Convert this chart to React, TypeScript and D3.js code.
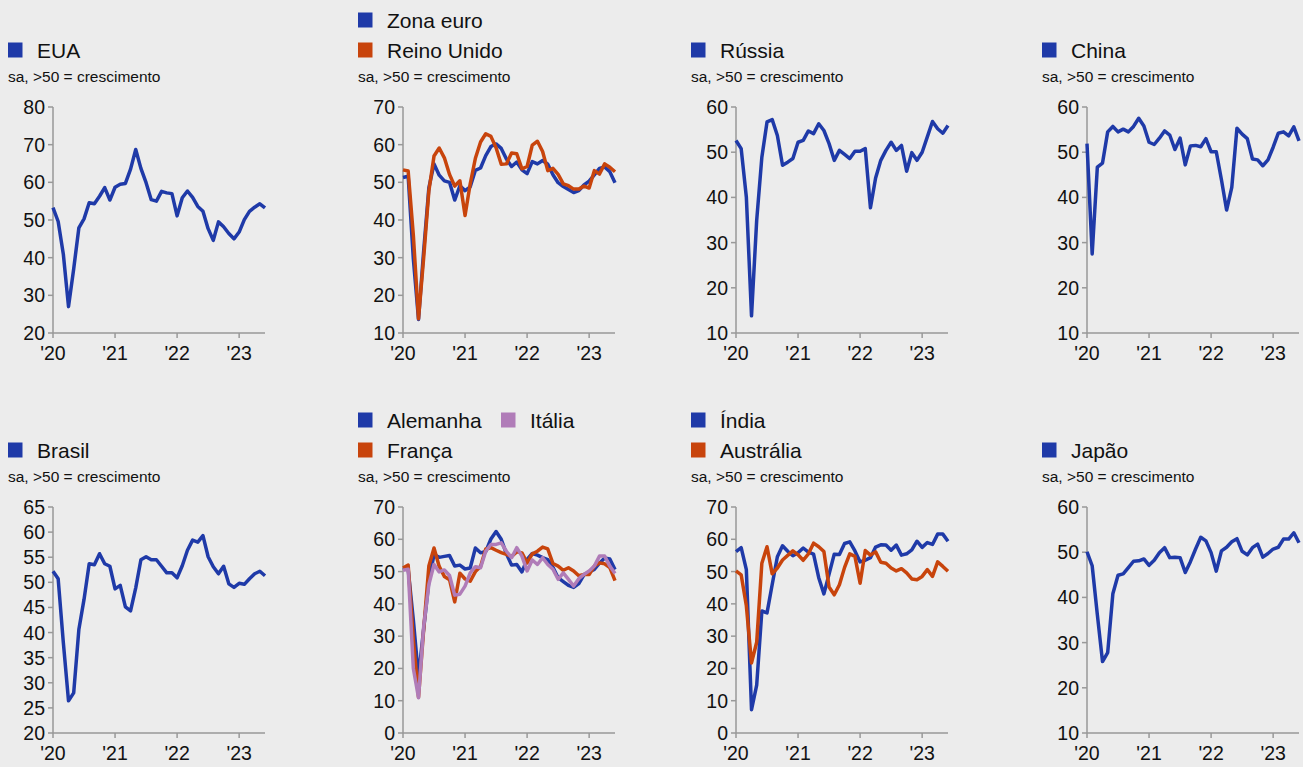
import React from "react";
import * as d3 from "d3";

// monthly PMI, Jan 2020 .. Jun 2023
const eua = [53.3, 49.6, 40.9, 27.0, 37.0, 47.9, 50.3, 54.6, 54.3, 56.3, 58.6, 55.3, 58.7, 59.5, 59.7, 63.5, 68.7, 63.7, 59.9, 55.4, 55.0, 57.6, 57.2, 57.0, 51.1, 55.9, 57.7, 56.0, 53.6, 52.3, 47.7, 44.6, 49.5, 48.2, 46.4, 45.0, 46.8, 50.1, 52.3, 53.4, 54.3, 53.2];
const zonaEuro = [51.3, 51.6, 29.7, 13.6, 31.9, 48.5, 54.9, 51.9, 50.4, 50.0, 45.3, 49.1, 47.8, 48.8, 53.2, 53.8, 57.1, 59.5, 60.2, 59.0, 56.2, 54.2, 55.4, 53.3, 52.3, 55.5, 54.9, 55.8, 54.8, 52.0, 49.9, 48.9, 48.1, 47.3, 47.8, 49.3, 50.3, 52.0, 53.7, 54.1, 52.8, 49.9];
const reinoUnido = [53.3, 53.0, 36.0, 13.8, 30.0, 47.7, 57.0, 59.1, 56.5, 52.1, 49.0, 50.4, 41.2, 49.6, 56.4, 60.7, 62.9, 62.2, 59.2, 54.8, 54.9, 57.8, 57.6, 53.6, 54.2, 59.9, 60.9, 58.2, 53.1, 53.7, 52.1, 49.6, 49.1, 48.2, 48.2, 49.0, 48.5, 53.1, 52.2, 54.9, 54.0, 52.8];
const russia = [52.6, 50.8, 40.1, 13.8, 34.9, 48.9, 56.7, 57.2, 53.7, 47.1, 47.8, 48.6, 52.2, 52.6, 54.7, 54.1, 56.3, 54.8, 51.9, 48.2, 50.4, 49.5, 48.6, 50.2, 50.2, 50.8, 37.7, 44.3, 48.2, 50.4, 52.2, 50.4, 51.5, 45.8, 49.9, 48.2, 50.0, 53.4, 56.8, 55.2, 54.2, 55.9];
const china = [51.9, 27.5, 46.7, 47.6, 54.5, 55.7, 54.5, 55.1, 54.5, 55.7, 57.5, 55.8, 52.2, 51.7, 53.1, 54.7, 53.8, 50.6, 53.1, 47.2, 51.4, 51.5, 51.2, 53.0, 50.1, 50.1, 43.9, 37.2, 42.2, 55.3, 54.0, 53.0, 48.5, 48.3, 47.0, 48.3, 51.1, 54.2, 54.5, 53.6, 55.6, 52.5];
const brasil = [52.2, 50.7, 38.0, 26.4, 28.0, 40.6, 46.6, 53.7, 53.5, 55.7, 53.7, 53.2, 48.7, 49.4, 45.1, 44.3, 48.9, 54.5, 55.1, 54.5, 54.5, 53.2, 51.9, 51.9, 50.9, 53.3, 56.4, 58.4, 58.0, 59.3, 55.1, 53.1, 51.7, 53.2, 49.7, 49.0, 49.8, 49.6, 50.7, 51.7, 52.2, 51.3];
const alemanha = [51.2, 50.7, 35.0, 17.4, 32.3, 47.0, 55.3, 54.4, 54.7, 55.0, 51.7, 52.0, 50.8, 51.1, 57.3, 55.8, 56.2, 60.1, 62.4, 60.0, 55.5, 52.0, 52.2, 49.9, 53.8, 55.6, 55.1, 54.3, 53.7, 51.3, 48.1, 46.9, 45.7, 45.1, 46.3, 49.0, 49.9, 50.7, 52.6, 54.2, 53.9, 50.6];
const franca = [51.1, 52.0, 28.9, 11.1, 32.1, 51.7, 57.3, 51.6, 48.5, 47.5, 40.6, 49.5, 47.7, 47.0, 50.0, 51.6, 57.0, 57.4, 56.6, 55.9, 55.3, 54.7, 56.1, 55.8, 52.7, 55.5, 56.3, 57.6, 57.0, 52.5, 51.7, 50.4, 51.2, 50.2, 48.7, 49.1, 49.1, 51.7, 52.7, 52.4, 51.2, 47.2];
const italia = [50.4, 50.7, 20.0, 10.9, 33.0, 46.0, 52.2, 49.9, 50.5, 48.8, 42.7, 43.0, 45.5, 49.6, 51.5, 51.2, 56.3, 58.4, 58.4, 58.9, 56.3, 54.3, 57.4, 54.8, 50.2, 53.6, 52.2, 54.3, 52.2, 50.7, 47.6, 49.6, 47.6, 45.5, 47.8, 49.1, 50.2, 51.7, 54.8, 54.8, 51.7, 49.4];
const india = [56.2, 57.4, 50.6, 7.2, 14.8, 37.8, 37.2, 46.0, 54.6, 58.0, 56.3, 54.9, 55.8, 57.3, 56.0, 55.4, 48.1, 43.1, 49.2, 55.4, 55.3, 58.7, 59.2, 56.4, 53.0, 53.5, 54.3, 57.6, 58.3, 58.2, 56.6, 58.2, 55.1, 55.5, 56.7, 59.4, 57.5, 59.0, 58.4, 61.6, 61.6, 59.4];
const australia = [50.2, 49.0, 39.4, 21.7, 28.1, 52.6, 57.7, 49.3, 51.1, 53.6, 55.0, 56.4, 55.2, 53.5, 55.5, 58.8, 57.7, 56.2, 45.2, 42.8, 45.9, 51.3, 55.5, 54.7, 46.4, 56.5, 55.1, 56.1, 52.9, 52.6, 51.1, 50.2, 50.9, 49.6, 47.7, 47.5, 48.5, 50.6, 48.5, 53.0, 51.6, 50.1];
const japao = [50.1, 47.0, 36.2, 25.8, 27.8, 40.8, 44.9, 45.2, 46.6, 48.0, 48.1, 48.5, 47.1, 48.2, 49.9, 51.0, 48.8, 48.9, 48.8, 45.5, 47.9, 50.7, 53.3, 52.5, 49.9, 45.8, 50.3, 51.1, 52.3, 53.0, 50.2, 49.4, 51.0, 51.8, 48.9, 49.7, 50.7, 51.1, 52.9, 52.9, 54.3, 52.1];

const yearLabels = ["'20", "'21", "'22", "'23"];
const yearIdx = [0, 12, 24, 36];

const BLUE = "#1f3aa8";
const ORANGE = "#c8440c";
const PURPLE = "#b07cb8";
const AXIS = "#999999";
const FONT = "'Liberation Sans', Arial, sans-serif";

type Series = { name: string; values: number[]; color: string };
type Panel = {
  col: number;
  row: number;
  legend: Series[][]; // legend rows
  series: Series[];
  yDomain: [number, number];
  yStep: number;
};

const s = (name: string, values: number[], color: string): Series => ({ name, values, color });

const sEua = s("EUA", eua, BLUE);
const sZona = s("Zona euro", zonaEuro, BLUE);
const sRU = s("Reino Unido", reinoUnido, ORANGE);
const sRus = s("Rússia", russia, BLUE);
const sChina = s("China", china, BLUE);
const sBr = s("Brasil", brasil, BLUE);
const sAle = s("Alemanha", alemanha, BLUE);
const sFra = s("França", franca, ORANGE);
const sIta = s("Itália", italia, PURPLE);
const sInd = s("Índia", india, BLUE);
const sAus = s("Austrália", australia, ORANGE);
const sJap = s("Japão", japao, BLUE);

const panels: Panel[] = [
  { col: 0, row: 0, legend: [[sEua]], series: [sEua], yDomain: [20, 80], yStep: 10 },
  { col: 1, row: 0, legend: [[sZona], [sRU]], series: [sZona, sRU], yDomain: [10, 70], yStep: 10 },
  { col: 2, row: 0, legend: [[sRus]], series: [sRus], yDomain: [10, 60], yStep: 10 },
  { col: 3, row: 0, legend: [[sChina]], series: [sChina], yDomain: [10, 60], yStep: 10 },
  { col: 0, row: 1, legend: [[sBr]], series: [sBr], yDomain: [20, 65], yStep: 5 },
  { col: 1, row: 1, legend: [[sAle, sIta], [sFra]], series: [sAle, sFra, sIta], yDomain: [0, 70], yStep: 10 },
  { col: 2, row: 1, legend: [[sInd], [sAus]], series: [sInd, sAus], yDomain: [0, 70], yStep: 10 },
  { col: 3, row: 1, legend: [[sJap]], series: [sJap], yDomain: [10, 60], yStep: 10 },
];

const axisX = [53, 403, 736, 1087];
const rowOffset = [0, 400];
const plotTop = 107;
const plotH = 226;
const plotW = 212;

const ChartPanel = ({ p }: { p: Panel }) => {
  const x0 = axisX[p.col];
  const oy = rowOffset[p.row];
  const x = d3.scaleLinear().domain([0, 41]).range([x0, x0 + plotW]);
  const y = d3.scaleLinear().domain(p.yDomain).range([oy + plotTop + plotH, oy + plotTop]);
  const yTicks = d3.range(p.yDomain[0], p.yDomain[1] + 0.001, p.yStep);
  const line = d3
    .line<number>()
    .x((_, i) => x(i))
    .y((d) => y(d));
  const lx = x0 - 45;
  const nRows = p.legend.length;
  const yBase = oy + plotTop + plotH;

  return (
    <g>
      {p.legend.map((row, ri) => {
        const base = oy + 57.5 - (nRows - 1 - ri) * 30;
        let cx = lx;
        return row.map((it) => {
          const g = (
            <g key={it.name}>
              <rect x={cx} y={base - 15} width={14.5} height={15} fill={it.color} />
              <text x={cx + 29} y={base} fontSize={21} fill="#111" fontFamily={FONT}>
                {it.name}
              </text>
            </g>
          );
          cx += 143;
          return g;
        });
      })}
      <text x={lx} y={oy + 82} fontSize={15.5} fill="#111" fontFamily={FONT}>
        sa, &gt;50 = crescimento
      </text>

      <line x1={x0} x2={x0} y1={oy + plotTop} y2={yBase} stroke={AXIS} strokeWidth={1.5} />
      <line x1={x0} x2={x0 + plotW} y1={yBase} y2={yBase} stroke={AXIS} strokeWidth={1.5} />
      {yTicks.map((t) => (
        <g key={t}>
          <line x1={x0 - 5} x2={x0} y1={y(t)} y2={y(t)} stroke={AXIS} strokeWidth={1.5} />
          <text x={x0 - 8} y={y(t)} dy="0.36em" textAnchor="end" fontSize={19.5} fill="#111" fontFamily={FONT}>
            {t}
          </text>
        </g>
      ))}
      {yearIdx.map((m, i) => (
        <g key={m}>
          <line x1={x(m)} x2={x(m)} y1={yBase} y2={yBase + 5} stroke={AXIS} strokeWidth={1.5} />
          <text x={x(m)} y={yBase + 27} textAnchor="middle" fontSize={19.5} fill="#111" fontFamily={FONT}>
            {yearLabels[i]}
          </text>
        </g>
      ))}

      {p.series.map((se) => (
        <path
          key={se.name}
          d={line(se.values) || ""}
          fill="none"
          stroke={se.color}
          strokeWidth={3.5}
          strokeLinejoin="round"
        />
      ))}
    </g>
  );
};

export default function App() {
  return (
    <svg
      width={1303}
      height={767}
      style={{ position: "absolute", left: 0, top: 0, display: "block" }}
    >
      <rect width={1303} height={767} fill="#ececec" />
      {panels.map((p, i) => (
        <ChartPanel key={i} p={p} />
      ))}
    </svg>
  );
}
